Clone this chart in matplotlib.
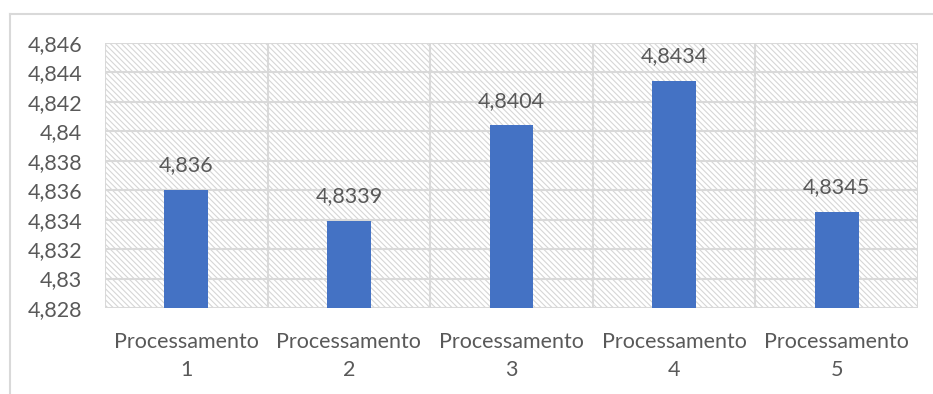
import matplotlib
matplotlib.use("Agg")
import matplotlib.pyplot as plt
from matplotlib.patches import Rectangle
from matplotlib.lines import Line2D

categories = ["Processamento\n1", "Processamento\n2", "Processamento\n3",
              "Processamento\n4", "Processamento\n5"]
values = [4.836, 4.8339, 4.8404, 4.8434, 4.8345]
value_labels = ["4,836", "4,8339", "4,8404", "4,8434", "4,8345"]
yticks = [4.828, 4.83, 4.832, 4.834, 4.836, 4.838, 4.84, 4.842, 4.844, 4.846]
ytick_labels = ["4,828", "4,83", "4,832", "4,834", "4,836", "4,838",
                "4,84", "4,842", "4,844", "4,846"]

TEXT = "#595959"
GRID = "#d9d9d9"
BAR = "#4472C4"
FS = 15.5

plt.rcParams["font.family"] = ["Lato", "DejaVu Sans"]
plt.rcParams["hatch.linewidth"] = 0.8
plt.rcParams["hatch.color"] = "#d6d6d6"

fig = plt.figure(figsize=(9.33, 3.94), dpi=100)
ax = fig.add_axes([105 / 933, 86 / 394, 813 / 933, 265 / 394])

# hatched plot-area background
ax.add_patch(Rectangle((0, 0), 1, 1, transform=ax.transAxes, facecolor="white",
                       edgecolor="#d6d6d6", hatch="\\" * 6, linewidth=0, zorder=0))

x = list(range(len(categories)))
ax.bar(x, values, width=0.27, color=BAR, zorder=3)

for xi, v, lab in zip(x, values, value_labels):
    ax.annotate(lab, (xi, v), xytext=(0, 13.5), textcoords="offset points",
                ha="center", va="baseline", fontsize=FS, color=TEXT, zorder=4)

ax.set_xlim(-0.5, len(categories) - 0.5)
ax.set_ylim(yticks[0], yticks[-1])
ax.set_yticks(yticks)
ax.set_yticklabels(ytick_labels)
ax.set_xticks(x)
ax.set_xticklabels(categories, linespacing=1.5)

# horizontal gridlines plus vertical category separators
for yv in yticks:
    ax.axhline(yv, color=GRID, linewidth=1.5, zorder=1)
for b in [i - 0.5 for i in range(len(categories) + 1)]:
    ax.axvline(b, color=GRID, linewidth=1.5, zorder=1)

for s in ax.spines.values():
    s.set_visible(False)
ax.tick_params(axis="both", length=0, labelsize=FS, colors=TEXT)
ax.tick_params(axis="y", pad=16.5)
ax.tick_params(axis="x", pad=17)

# chart-area border (left and top edges)
fig.add_artist(Line2D([10 / 933, 10 / 933], [0, 1 - 14 / 394],
                      transform=fig.transFigure, color=GRID, linewidth=1.5))
fig.add_artist(Line2D([10 / 933, 1], [1 - 14 / 394, 1 - 14 / 394],
                      transform=fig.transFigure, color=GRID, linewidth=1.5))

fig.savefig("out.png", dpi=100, facecolor="white")
